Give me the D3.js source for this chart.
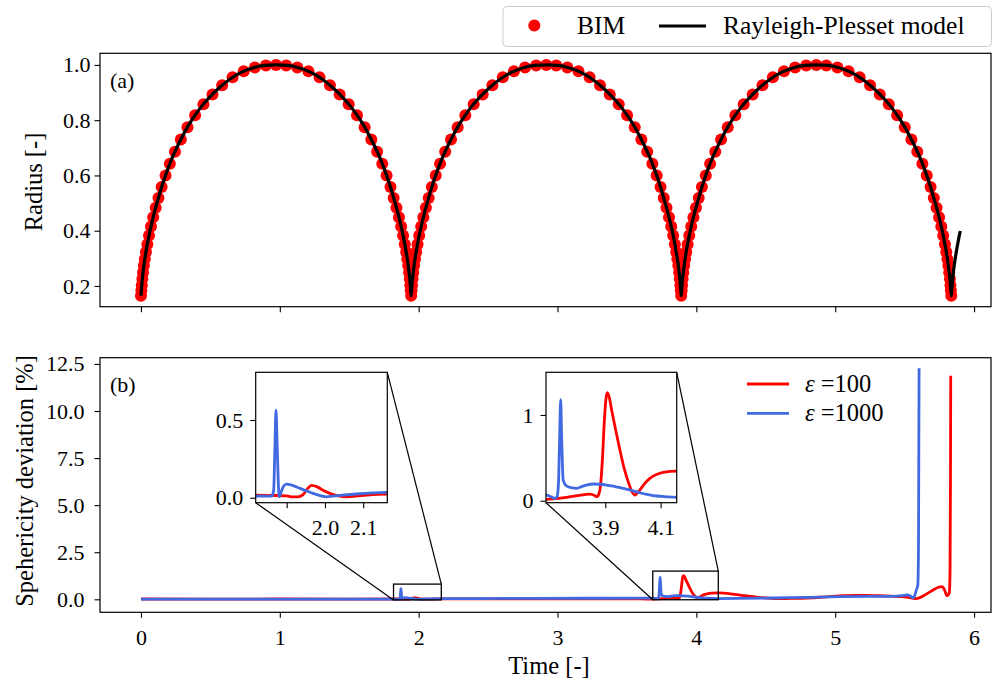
<!DOCTYPE html>
<html>
<head>
<meta charset="utf-8">
<script src="https://cdn.jsdelivr.net/npm/d3@7"></script>
<style>
  body { margin: 0; background: #fff; }
  svg text { font-family: 'Liberation Serif', serif; fill: #000; }
</style>
</head>
<body>
<svg id="chart" width="993" height="684"></svg>
<script>
// Rayleigh-Plesset radius curve [time, radius]
const rpCurve = [
  [0,0.165],[0.004,0.19],[0.008,0.215],[0.014,0.245],[0.022,0.278],[0.032,0.311],[0.044,0.346],[0.058,0.383],[0.075,0.422],[0.095,0.463],[0.12,0.508],[0.15,0.56],[0.185,0.612],[0.225,0.664],[0.27,0.713],[0.32,0.762],[0.375,0.807],[0.435,0.849],[0.5,0.886],[0.57,0.92],[0.645,0.95],[0.725,0.974],[0.81,0.99],[0.89,0.998],[0.973,1.0],
  [1.056,0.998],[1.136,0.99],[1.221,0.974],[1.301,0.95],[1.376,0.92],[1.446,0.886],[1.511,0.849],[1.571,0.807],[1.626,0.762],[1.676,0.713],[1.721,0.664],[1.761,0.612],[1.796,0.56],[1.826,0.508],[1.851,0.463],[1.871,0.422],[1.888,0.383],[1.902,0.346],[1.914,0.311],[1.924,0.278],[1.932,0.245],[1.938,0.215],[1.942,0.19],[1.946,0.165],
  [1.95,0.19],[1.954,0.215],[1.96,0.245],[1.968,0.278],[1.978,0.311],[1.99,0.346],[2.004,0.383],[2.021,0.422],[2.041,0.463],[2.066,0.508],[2.096,0.56],[2.131,0.612],[2.171,0.664],[2.216,0.713],[2.266,0.762],[2.321,0.807],[2.381,0.849],[2.446,0.886],[2.516,0.92],[2.591,0.95],[2.671,0.974],[2.756,0.99],[2.836,0.998],[2.919,1.0],
  [3.001,0.998],[3.081,0.99],[3.166,0.974],[3.246,0.95],[3.321,0.92],[3.391,0.886],[3.456,0.849],[3.516,0.807],[3.571,0.762],[3.621,0.713],[3.666,0.664],[3.706,0.612],[3.741,0.56],[3.771,0.508],[3.796,0.463],[3.816,0.422],[3.833,0.383],[3.847,0.346],[3.859,0.311],[3.869,0.278],[3.877,0.245],[3.883,0.215],[3.887,0.19],[3.891,0.165],
  [3.895,0.19],[3.899,0.215],[3.905,0.245],[3.913,0.278],[3.923,0.311],[3.935,0.346],[3.949,0.383],[3.966,0.422],[3.986,0.463],[4.011,0.508],[4.041,0.56],[4.076,0.612],[4.116,0.664],[4.161,0.713],[4.211,0.762],[4.266,0.807],[4.326,0.849],[4.391,0.886],[4.461,0.92],[4.536,0.95],[4.616,0.974],[4.701,0.99],[4.781,0.998],[4.864,1.0],
  [4.946,0.998],[5.026,0.99],[5.111,0.974],[5.191,0.95],[5.266,0.92],[5.336,0.886],[5.401,0.849],[5.461,0.807],[5.516,0.762],[5.566,0.713],[5.611,0.664],[5.651,0.612],[5.686,0.56],[5.716,0.508],[5.741,0.463],[5.761,0.422],[5.778,0.383],[5.792,0.346],[5.804,0.311],[5.814,0.278],[5.822,0.245],[5.828,0.215],[5.832,0.19],[5.836,0.165],
  [5.84,0.19],[5.844,0.215],[5.85,0.245],[5.858,0.278],[5.868,0.311],[5.88,0.346],[5.894,0.383],[5.901,0.399]
];

// BIM samples [time, radius]
const bimPoints = [
  [0,0.165],[0.003,0.184],[0.006,0.203],[0.010,0.225],[0.015,0.249],[0.021,0.274],[0.028,0.298],[0.036,0.323],[0.046,0.351],[0.058,0.383],[0.072,0.415],[0.088,0.449],[0.106,0.483],[0.126,0.518],[0.149,0.558],[0.177,0.600],[0.208,0.642],[0.245,0.686],[0.287,0.730],[0.335,0.774],[0.390,0.818],[0.450,0.858],[0.515,0.893],[0.585,0.926],[0.660,0.955],[0.740,0.977],[0.820,0.991],[0.900,0.998],[0.973,1.0],
  [1.046,0.998],[1.126,0.991],[1.206,0.977],[1.286,0.955],[1.361,0.926],[1.431,0.893],[1.496,0.858],[1.556,0.818],[1.611,0.774],[1.659,0.730],[1.701,0.686],[1.738,0.642],[1.769,0.600],[1.797,0.558],[1.820,0.518],[1.840,0.483],[1.858,0.449],[1.874,0.415],[1.888,0.383],[1.900,0.351],[1.910,0.323],[1.918,0.298],[1.925,0.274],[1.931,0.249],[1.936,0.225],[1.940,0.203],[1.943,0.184],
  [1.946,0.165],[1.949,0.184],[1.952,0.203],[1.956,0.225],[1.961,0.249],[1.967,0.274],[1.974,0.298],[1.982,0.323],[1.992,0.351],[2.004,0.383],[2.018,0.415],[2.034,0.449],[2.052,0.483],[2.072,0.518],[2.095,0.558],[2.123,0.600],[2.154,0.642],[2.191,0.686],[2.233,0.730],[2.281,0.774],[2.336,0.818],[2.396,0.858],[2.461,0.893],[2.531,0.926],[2.606,0.955],[2.686,0.977],[2.766,0.991],[2.846,0.998],[2.919,1.0],
  [2.991,0.998],[3.071,0.991],[3.151,0.977],[3.231,0.955],[3.306,0.926],[3.376,0.893],[3.441,0.858],[3.501,0.818],[3.556,0.774],[3.604,0.730],[3.646,0.686],[3.683,0.642],[3.714,0.600],[3.742,0.558],[3.765,0.518],[3.785,0.483],[3.803,0.449],[3.819,0.415],[3.833,0.383],[3.845,0.351],[3.855,0.323],[3.863,0.298],[3.870,0.274],[3.876,0.249],[3.881,0.225],[3.885,0.203],[3.888,0.184],
  [3.891,0.165],[3.894,0.184],[3.897,0.203],[3.901,0.225],[3.906,0.249],[3.912,0.274],[3.919,0.298],[3.927,0.323],[3.937,0.351],[3.949,0.383],[3.963,0.415],[3.979,0.449],[3.997,0.483],[4.017,0.518],[4.040,0.558],[4.068,0.600],[4.099,0.642],[4.136,0.686],[4.178,0.730],[4.226,0.774],[4.281,0.818],[4.341,0.858],[4.406,0.893],[4.476,0.926],[4.551,0.955],[4.631,0.977],[4.711,0.991],[4.791,0.998],[4.864,1.0],
  [4.936,0.998],[5.016,0.991],[5.096,0.977],[5.176,0.955],[5.251,0.926],[5.321,0.893],[5.386,0.858],[5.446,0.818],[5.501,0.774],[5.549,0.730],[5.591,0.686],[5.628,0.642],[5.659,0.600],[5.687,0.558],[5.710,0.518],[5.730,0.483],[5.748,0.449],[5.764,0.415],[5.778,0.383],[5.790,0.351],[5.800,0.323],[5.808,0.298],[5.815,0.274],[5.821,0.249],[5.826,0.225],[5.830,0.203],[5.833,0.184],[5.836,0.165]
];

// sphericity deviation [time, %]
const devEps100 = [
  [0,0.015],[0.5,0.012],[1.0,0.015],[1.5,0.014],[1.82,0.017],[1.86,0.015],[1.9,0.012],[1.915,0.005],[1.93,0.006],[1.943,0.02],[1.955,0.06],[1.965,0.08],[1.98,0.07],[1.995,0.048],[2.013,0.028],[2.035,0.012],[2.057,0.006],[2.08,0.01],[2.109,0.017],[2.16,0.024],
  [2.4,0.02],[2.8,0.018],[3.2,0.02],[3.6,0.018],[3.69,0.016],[3.72,0.025],[3.761,0.04],[3.8,0.06],[3.845,0.078],[3.862,0.06],[3.869,0.047],[3.877,0.08],[3.883,0.18],[3.89,0.5],[3.897,0.95],[3.903,1.2],[3.908,1.26],[3.915,1.2],[3.923,1.06],[3.938,0.82],[3.953,0.59],[3.968,0.38],[3.983,0.22],[3.996,0.11],[4.007,0.067],[4.016,0.09],[4.025,0.125],[4.04,0.19],[4.061,0.26],[4.085,0.305],[4.109,0.33],[4.158,0.345],
  [4.2,0.33],[4.26,0.28],[4.34,0.2],[4.43,0.12],[4.51,0.07],[4.6,0.04],[4.69,0.045],[4.79,0.07],[4.89,0.11],[4.98,0.16],[5.07,0.195],[5.15,0.21],[5.23,0.205],[5.32,0.19],[5.4,0.165],[5.48,0.14],[5.54,0.09],[5.58,0.04],[5.61,0.09],[5.65,0.25],[5.7,0.47],[5.745,0.64],[5.765,0.67],[5.782,0.58],[5.795,0.35],[5.802,0.2],[5.812,0.22],[5.822,0.35],[5.827,1.5],[5.83,6.0],[5.832,11.87]
];
const devEps1000 = [
  [0,0.012],[0.5,0.01],[1.0,0.012],[1.5,0.011],[1.82,0.011],[1.861,0.01],[1.866,0.05],[1.869,0.3],[1.872,0.564],[1.875,0.35],[1.878,0.1],[1.881,0.006],[1.886,0.04],[1.892,0.075],[1.9,0.088],[1.915,0.08],[1.935,0.06],[1.952,0.044],[1.969,0.028],[1.985,0.015],[2.004,0.006],[2.02,0.01],[2.039,0.015],[2.083,0.024],[2.161,0.034],
  [2.4,0.04],[2.8,0.05],[3.2,0.055],[3.6,0.06],[3.688,0.066],[3.705,0.045],[3.718,0.028],[3.726,0.05],[3.731,0.2],[3.735,0.7],[3.739,1.18],[3.742,0.8],[3.745,0.45],[3.748,0.24],[3.761,0.17],[3.78,0.15],[3.797,0.145],[3.815,0.165],[3.835,0.185],[3.857,0.195],[3.88,0.192],[3.905,0.183],[3.935,0.165],[3.965,0.145],[3.995,0.12],[4.025,0.093],[4.055,0.072],[4.086,0.055],[4.12,0.046],[4.158,0.04],
  [4.3,0.045],[4.55,0.07],[4.8,0.1],[5.03,0.14],[5.25,0.155],[5.41,0.16],[5.48,0.19],[5.52,0.23],[5.545,0.16],[5.561,0.07],[5.575,0.25],[5.585,0.51],[5.595,0.75],[5.6,3.0],[5.604,12.27]
];

const timeTicks = [0, 1, 2, 3, 4, 5, 6];
const radiusTicks = [0.2, 0.4, 0.6, 0.8, 1.0];
const devTicks = [0, 2.5, 5, 7.5, 10, 12.5];
const inset1XTicks = [1.9, 2.0, 2.1];
const inset1XLabels = ['', '2.0', '2.1'];
const inset1YTicks = [0, 0.5];
const inset1YLabels = ['0.0', '0.5'];
const inset2XTicks = [3.9, 4.1];
const inset2XLabels = ['3.9', '4.1'];
const inset2YTicks = [0, 1];
const inset2YLabels = ['0', '1'];
const inset1Range = { x: [1.819, 2.163], y: [-0.032, 0.807] };
const inset2Range = { x: [3.686, 4.158], y: [-0.023, 1.498] };

const RED = '#ff0000', BLUE = '#4169e1';
const FS = 22;      // tick labels
const LFS = 24.5;   // axis labels
const GFS = 25.5;   // legend text

const svg = d3.select('#chart');
svg.append('rect').attr('width', 993).attr('height', 684).attr('fill', '#fff');
const defs = svg.append('defs');

const left = 100, right = 991;
const aTop = 53.3, aBot = 306.7;
const bTop = 357.7, bBot = 612.3;

const x = d3.scaleLinear().domain([-0.295, 6.122]).range([left, right]);
const yA = d3.scaleLinear().domain([0.125, 1.042]).range([aBot, aTop]);
const yB = d3.scaleLinear().domain([-0.69, 12.83]).range([bBot, bTop]);

function clip(id, x0, y0, w, h) {
  defs.append('clipPath').attr('id', id).append('rect')
    .attr('x', x0).attr('y', y0).attr('width', w).attr('height', h);
  return `url(#${id})`;
}

function styleAxis(g) {
  g.attr('font-family', null).attr('font-size', null);
  g.select('.domain').remove();
  g.selectAll('.tick line').attr('stroke', '#000').attr('stroke-width', 1.1);
  g.selectAll('.tick text').attr('font-size', FS).attr('fill', '#000');
}

function frame(x0, y0, w, h) {
  svg.append('rect').attr('x', x0).attr('y', y0).attr('width', w).attr('height', h)
    .attr('fill', 'none').attr('stroke', '#000').attr('stroke-width', 1.2);
}

// ---------- panel (a) ----------
const gA = svg.append('g').attr('clip-path', clip('clipA', left, aTop, right - left, aBot - aTop));
gA.selectAll('circle').data(bimPoints).join('circle')
  .attr('cx', d => x(d[0])).attr('cy', d => yA(d[1])).attr('r', 6).attr('fill', RED);
gA.append('path').datum(rpCurve)
  .attr('d', d3.line().x(d => x(d[0])).y(d => yA(d[1])).curve(d3.curveMonotoneX))
  .attr('fill', 'none').attr('stroke', '#000').attr('stroke-width', 3.2);

svg.append('g').attr('transform', `translate(0,${aBot})`)
  .call(d3.axisBottom(x).tickValues(timeTicks).tickFormat('').tickSize(5.5).tickSizeOuter(0))
  .call(styleAxis);
svg.append('g').attr('transform', `translate(${left},0)`)
  .call(d3.axisLeft(yA).tickValues(radiusTicks).tickFormat(d3.format('.1f')).tickSize(5.5).tickPadding(4))
  .call(styleAxis);
frame(left, aTop, right - left, aBot - aTop);

svg.append('text').attr('x', 110).attr('y', 88).attr('font-size', FS).text('(a)');
svg.append('text').attr('transform', `translate(42,${(aTop + aBot) / 2 + 2}) rotate(-90)`)
  .attr('text-anchor', 'middle').attr('font-size', LFS).text('Radius [-]');

// ---------- panel (b) ----------
const devLine = (xs, ys) => d3.line().x(d => xs(d[0])).y(d => ys(d[1])).curve(d3.curveMonotoneX);
const gB = svg.append('g').attr('clip-path', clip('clipB', left, bTop, right - left, bBot - bTop));
[[devEps100, RED], [devEps1000, BLUE]].forEach(([data, color]) => {
  gB.append('path').datum(data).attr('d', devLine(x, yB))
    .attr('fill', 'none').attr('stroke', color).attr('stroke-width', 2.8).attr('stroke-linejoin', 'round');
});

svg.append('g').attr('transform', `translate(0,${bBot})`)
  .call(d3.axisBottom(x).tickValues(timeTicks).tickFormat(d3.format('d')).tickSize(5.5).tickPadding(12).tickSizeOuter(0))
  .call(styleAxis);
svg.append('g').attr('transform', `translate(${left},0)`)
  .call(d3.axisLeft(yB).tickValues(devTicks).tickFormat(d3.format('.1f')).tickSize(5.5).tickPadding(10))
  .call(styleAxis);
frame(left, bTop, right - left, bBot - bTop);

svg.append('text').attr('x', 110).attr('y', 392).attr('font-size', FS).text('(b)');
svg.append('text').attr('transform', `translate(33,${(bTop + bBot) / 2 - 4}) rotate(-90)`)
  .attr('text-anchor', 'middle').attr('font-size', LFS).text('Spehericity deviation [%]');
svg.append('text').attr('x', 549).attr('y', 674)
  .attr('text-anchor', 'middle').attr('font-size', LFS).text('Time [-]');

// ---------- insets ----------
function drawInset(id, box, range, xt, xl, yt, yl) {
  const xi = d3.scaleLinear().domain(range.x).range([box.x0, box.x1]);
  const yi = d3.scaleLinear().domain(range.y).range([box.y1, box.y0]);
  // zoom rectangle in main panel and connectors
  const rx0 = x(range.x[0]), rx1 = x(range.x[1]);
  const ry0 = yB(range.y[1]), ry1 = yB(range.y[0]);
  svg.append('rect').attr('x', rx0).attr('y', ry0).attr('width', rx1 - rx0).attr('height', ry1 - ry0)
    .attr('fill', 'none').attr('stroke', '#000').attr('stroke-width', 1.3);
  svg.append('line').attr('x1', box.x0).attr('y1', box.y1).attr('x2', rx0).attr('y2', ry1)
    .attr('stroke', '#000').attr('stroke-width', 1.2);
  svg.append('line').attr('x1', box.x1).attr('y1', box.y0).attr('x2', rx1).attr('y2', ry0)
    .attr('stroke', '#000').attr('stroke-width', 1.2);

  svg.append('rect').attr('x', box.x0).attr('y', box.y0)
    .attr('width', box.x1 - box.x0).attr('height', box.y1 - box.y0).attr('fill', '#fff');
  const g = svg.append('g').attr('clip-path', clip(id, box.x0, box.y0, box.x1 - box.x0, box.y1 - box.y0));
  [[devEps100, RED], [devEps1000, BLUE]].forEach(([data, color]) => {
    g.append('path').datum(data).attr('d', devLine(xi, yi))
      .attr('fill', 'none').attr('stroke', color).attr('stroke-width', 2.8).attr('stroke-linejoin', 'round');
  });
  svg.append('g').attr('transform', `translate(0,${box.y1})`)
    .call(d3.axisBottom(xi).tickValues(xt).tickFormat((d, i) => xl[i]).tickSize(5.5).tickPadding(11).tickSizeOuter(0))
    .call(styleAxis);
  svg.append('g').attr('transform', `translate(${box.x0},0)`)
    .call(d3.axisLeft(yi).tickValues(yt).tickFormat((d, i) => yl[i]).tickSize(5.5).tickPadding(7).tickSizeOuter(0))
    .call(styleAxis);
  frame(box.x0, box.y0, box.x1 - box.x0, box.y1 - box.y0);
}

drawInset('clipI1', { x0: 255.7, x1: 387.3, y0: 372.3, y1: 502.7 }, inset1Range,
  inset1XTicks, inset1XLabels, inset1YTicks, inset1YLabels);
drawInset('clipI2', { x0: 546, x1: 676.7, y0: 372.3, y1: 502.7 }, inset2Range,
  inset2XTicks, inset2XLabels, inset2YTicks, inset2YLabels);

// ---------- legend (b) ----------
const legB = svg.append('g');
[[RED, '100', 384], [BLUE, '1000', 413.3]].forEach(([color, val, ly]) => {
  legB.append('line').attr('x1', 747).attr('x2', 789).attr('y1', ly).attr('y2', ly)
    .attr('stroke', color).attr('stroke-width', 2.8);
  const t = legB.append('text').attr('x', 805).attr('y', ly + 8).attr('font-size', LFS);
  t.append('tspan').attr('font-style', 'italic').text('ε');
  t.append('tspan').text(' =' + val);
});

// ---------- top legend ----------
const legT = svg.append('g');
legT.append('rect').attr('x', 503).attr('y', 6.5).attr('width', 488.5).attr('height', 40)
  .attr('rx', 4).attr('fill', '#fff').attr('stroke', '#cccccc').attr('stroke-width', 1);
legT.append('circle').attr('cx', 534.3).attr('cy', 25.5).attr('r', 6).attr('fill', RED);
legT.append('text').attr('x', 577).attr('y', 34).attr('font-size', GFS).text('BIM');
legT.append('line').attr('x1', 659).attr('x2', 706).attr('y1', 26).attr('y2', 26)
  .attr('stroke', '#000').attr('stroke-width', 3.2);
legT.append('text').attr('x', 723).attr('y', 34).attr('font-size', GFS).text('Rayleigh-Plesset model');
</script>
</body>
</html>
